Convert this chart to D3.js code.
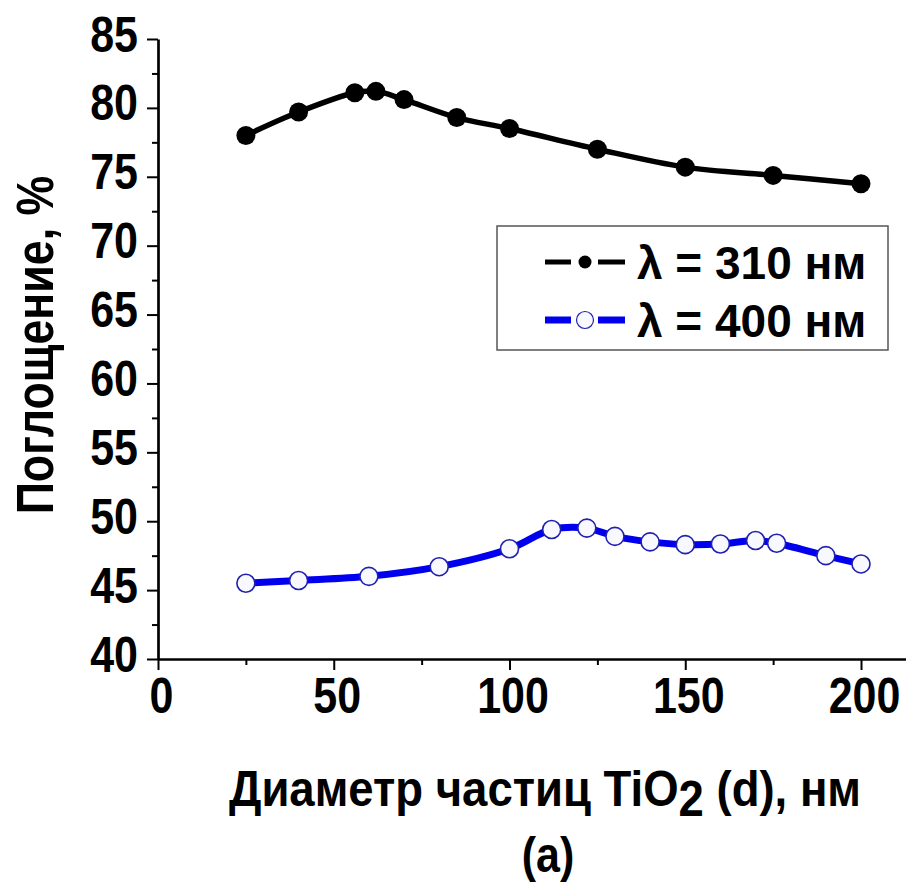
<!DOCTYPE html>
<html>
<head>
<meta charset="utf-8">
<script src="https://cdn.jsdelivr.net/npm/d3@7"></script>
<style>
  body { margin: 0; background: #fff; }
  text { font-family: "Liberation Sans", Arial, sans-serif; font-weight: bold; fill: #000; }
</style>
</head>
<body>
<script>
// data
var dBlack = [25, 40, 56, 62, 70, 85, 100, 125, 150, 175, 200];
var absBlack = [78.0, 79.7, 81.1, 81.2, 80.6, 79.3, 78.5, 77.0, 75.7, 75.1, 74.5];
var dBlue = [25, 40, 60, 80, 100, 112, 122, 130, 140, 150, 160, 170, 176, 190, 200];
var absBlue = [45.5, 45.7, 46.0, 46.7, 48.0, 49.4, 49.5, 48.9, 48.5, 48.3, 48.35, 48.6, 48.4, 47.5, 46.9];
var xTicks = [0, 50, 100, 150, 200];
var xMinor = [25, 75, 125, 175];
var yTicks = [40, 45, 50, 55, 60, 65, 70, 75, 80, 85];
var yMinor = [42.5, 47.5, 52.5, 57.5, 62.5, 67.5, 72.5, 77.5, 82.5];
var legendLabels = ["λ = 310 нм", "λ = 400 нм"];

var W = 906, H = 884;
var sx = 0.86; // narrow type

var svg = d3.select("body").append("svg")
    .attr("width", W)
    .attr("height", H);

var x = d3.scaleLinear().domain([0, 212.8]).range([158, 906]);
var y = d3.scaleLinear().domain([40, 85]).range([659, 39]);

// minor ticks first
svg.append("g")
    .attr("transform", "translate(0,659)")
    .call(d3.axisBottom(x).tickValues(xMinor).tickSize(6).tickFormat(""))
    .call(function (g) { g.select(".domain").remove(); g.selectAll("line").attr("stroke-width", 2); });

svg.append("g")
    .attr("transform", "translate(158,0)")
    .call(d3.axisLeft(y).tickValues(yMinor).tickSize(6).tickFormat(""))
    .call(function (g) { g.select(".domain").remove(); g.selectAll("line").attr("stroke-width", 2); });

// x axis
var xAxis = svg.append("g")
    .attr("transform", "translate(0,659)")
    .call(d3.axisBottom(x).tickValues(xTicks).tickSize(11).tickSizeOuter(0));
xAxis.select(".domain").attr("stroke-width", 2.7);
xAxis.selectAll("line").attr("stroke-width", 2);
xAxis.selectAll("text")
    .attr("y", null).attr("dy", null)
    .attr("font-size", 50)
    .attr("text-anchor", "middle")
    .attr("transform", "translate(3,54) scale(" + sx + ",1)");

// y axis
var yAxis = svg.append("g")
    .attr("transform", "translate(158,0)")
    .call(d3.axisLeft(y).tickValues(yTicks).tickSize(11).tickSizeOuter(0));
yAxis.select(".domain").attr("stroke-width", 2.7);
yAxis.selectAll("line").attr("stroke-width", 2);
yAxis.selectAll("text")
    .attr("x", null).attr("dy", "0.36em")
    .attr("font-size", 50)
    .attr("text-anchor", "end")
    .attr("transform", "translate(-20,-6) scale(" + sx + ",1)");

var line = d3.line()
    .x(function (d) { return x(d[0]); })
    .y(function (d) { return y(d[1]); })
    .curve(d3.curveCatmullRom);

var black = dBlack.map(function (d, i) { return [d, absBlack[i]]; });
var blue = dBlue.map(function (d, i) { return [d, absBlue[i]]; });

svg.append("path").datum(blue)
    .attr("d", line)
    .attr("fill", "none")
    .attr("stroke", "#0000ee")
    .attr("stroke-width", 7);

svg.selectAll("circle.blue").data(blue).enter().append("circle")
    .attr("class", "blue")
    .attr("cx", function (d) { return x(d[0]); })
    .attr("cy", function (d) { return y(d[1]); })
    .attr("r", 9)
    .attr("fill", "#f8f8ff")
    .attr("stroke", "#2020b0")
    .attr("stroke-width", 1.6);

svg.append("path").datum(black)
    .attr("d", line)
    .attr("fill", "none")
    .attr("stroke", "#000")
    .attr("stroke-width", 5.5);

svg.selectAll("circle.black").data(black).enter().append("circle")
    .attr("class", "black")
    .attr("cx", function (d) { return x(d[0]); })
    .attr("cy", function (d) { return y(d[1]); })
    .attr("r", 9.5)
    .attr("fill", "#000");

// legend
var legend = svg.append("g");
legend.append("rect")
    .attr("x", 497).attr("y", 226)
    .attr("width", 391).attr("height", 124)
    .attr("fill", "#fff")
    .attr("stroke", "#555")
    .attr("stroke-width", 1.5);

var rows = legend.selectAll("g.row").data(legendLabels).enter().append("g")
    .attr("transform", function (d, i) { return "translate(0," + (262 + i * 58) + ")"; });

rows.append("line")
    .attr("x1", 545).attr("x2", 571)
    .attr("stroke", function (d, i) { return i === 0 ? "#000" : "#0000ee"; })
    .attr("stroke-width", function (d, i) { return i === 0 ? 5 : 7; });
rows.append("line")
    .attr("x1", 598).attr("x2", 625)
    .attr("stroke", function (d, i) { return i === 0 ? "#000" : "#0000ee"; })
    .attr("stroke-width", function (d, i) { return i === 0 ? 5 : 7; });
rows.append("circle")
    .attr("cx", 585)
    .attr("r", function (d, i) { return i === 0 ? 6.5 : 8.5; })
    .attr("fill", function (d, i) { return i === 0 ? "#000" : "#f8f8ff"; })
    .attr("stroke", function (d, i) { return i === 0 ? "none" : "#2020b0"; })
    .attr("stroke-width", 1.2);
rows.append("text")
    .attr("font-size", 46)
    .attr("dy", "0.36em")
    .attr("transform", "translate(637,0)")
    .text(function (d) { return d; });

// axis titles
svg.append("text")
    .attr("font-size", 52)
    .attr("text-anchor", "middle")
    .attr("transform", "translate(53,345) rotate(-90) scale(" + sx + ",1)")
    .text("Поглощение, %");

var xt = svg.append("text")
    .attr("font-size", 50)
    .attr("text-anchor", "middle")
    .attr("transform", "translate(545,806) scale(0.91,1)");
xt.append("tspan").text("Диаметр частиц TiO");
xt.append("tspan").attr("dy", 10).text("2");
xt.append("tspan").attr("dy", -10).text(" (d), нм");

svg.append("text")
    .attr("font-size", 50)
    .attr("text-anchor", "middle")
    .attr("transform", "translate(548,872) scale(" + sx + ",1)")
    .text("(a)");
</script>
</body>
</html>
